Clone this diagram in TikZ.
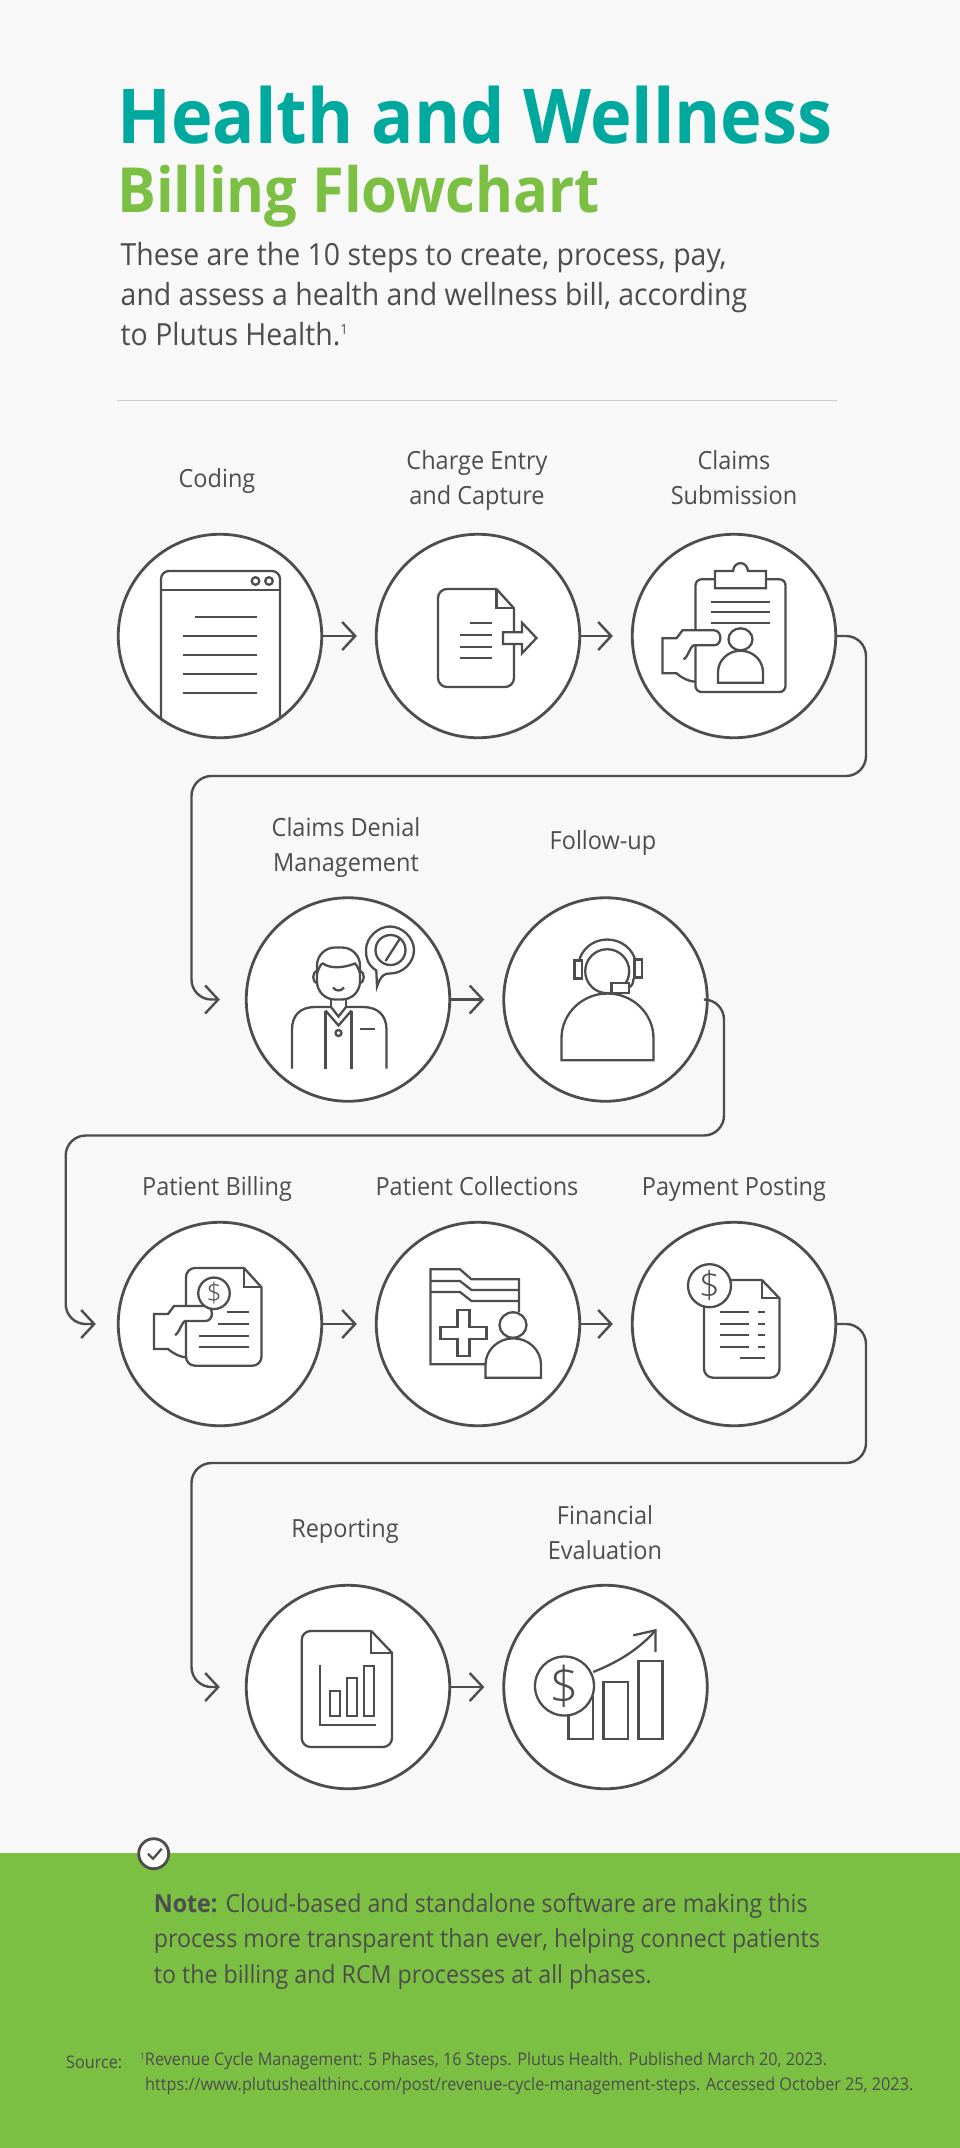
\documentclass[tikz,border=0pt]{standalone}
\usepackage{fontspec}
\setmainfont{Open Sans}
\newfontfamily\titlefont[FakeStretch=0.93]{Open Sans}
\newfontfamily\bodyfont[FakeStretch=0.932]{Open Sans}
\newfontfamily\labelfont[FakeStretch=0.94]{Open Sans}
\newfontfamily\coinfont{Open Sans Light}
\usetikzlibrary{arrows.meta,positioning}
\definecolor{inkgray}{RGB}{77,77,77}
\definecolor{pagegray}{RGB}{248,248,248}
\definecolor{rulegray}{RGB}{204,204,204}
\definecolor{tealhead}{RGB}{0,169,157}
\definecolor{greenhead}{RGB}{123,192,67}
\tikzset{
  stepcircle/.style={circle,draw=inkgray,fill=white,line width=2.8pt,minimum size=203.5pt,inner sep=0pt},
  steplabel/.style={text=inkgray,font=\labelfont\fontsize{25}{35}\selectfont,align=center,inner sep=0pt},
  flow/.style={draw=inkgray,line width=2.4pt,-{Straight Barb[length=13pt,width=28pt,line width=2.4pt]}},
  longflow/.style={flow,rounded corners=20pt},
  icon/.style={draw=inkgray,line width=2.3pt},
  coin/.style={circle,draw=inkgray,fill=white,line width=2.3pt,inner sep=-4pt,text=inkgray},
}
% folded sheet: left, top, right, bottom, fold x, fold y
\newcommand{\foldeddoc}[6]{
  \draw[icon,fill=white] (#5,#2) -- (#3,#6) [rounded corners=9pt] -- (#3,#4) -- (#1,#4) -- (#1,#2) -- (#5,#2);
  \draw[icon] (#5,#2) -- (#5,#6) -- (#3,#6);
}
% hand, origin at the upper left of the wrist
\newcommand{\handshape}[2]{
  \begin{scope}[shift={(#1,#2)}]
    \fill[white] (25,-8) -- (51.5,-8) .. controls (60,-8) and (60,7) .. (51.5,7) -- (25,7) -- cycle;
    \draw[icon] (33,43.5) .. controls (26,43) and (20,40) .. (14,35) -- (0,35) -- (0,0) -- (14,0) -- (20,-8) -- (51.5,-8) .. controls (60,-8) and (60,7) .. (51.5,7) -- (31.5,7) .. controls (28,7) and (25,20) .. (21,21);
  \end{scope}
}
% person: head x, head y, head radii, body left, body right, body top, body bottom
\newcommand{\personshape}[8]{
  \pgfmathsetmacro{\ys}{#7+0.67*(#8-#7)}
  \pgfmathsetmacro{\xm}{0.5*(#5+#6)}
  \pgfmathsetmacro{\ctrlx}{0.275*(#6-#5)}
  \pgfmathsetmacro{\ctrly}{0.55*(\ys-#7)}
  \draw[icon,fill=white] (#5,#8) -- (#5,\ys) .. controls (#5,\ys-\ctrly) and (\xm-\ctrlx,#7) .. (\xm,#7) .. controls (\xm+\ctrlx,#7) and (#6,\ys-\ctrly) .. (#6,\ys) -- (#6,#8) -- cycle;
  \draw[icon,fill=white] (#1,#2) ellipse ({#3} and {#4});
}
\begin{document}
\begin{tikzpicture}[x=1pt,y=-1pt]
\useasboundingbox (0,0) rectangle (960,2148);
\fill[pagegray] (0,0) rectangle (960,1853);
\fill[greenhead] (0,1853) rectangle (960,2148);
%Kopf
\node[anchor=base west,inner sep=0pt,text=tealhead,font=\titlefont\bfseries\fontsize{75.7}{75.7}\selectfont] (title) at (117,143) {Health and Wellness};
\node[anchor=base west,inner sep=0pt,text=greenhead,font=\titlefont\bfseries\fontsize{62.2}{62.2}\selectfont] (subtitle) at (117,212) {Billing Flowchart};
\node[anchor=north west,inner sep=0pt,text=inkgray,align=left,font=\bodyfont\fontsize{30.5}{40}\selectfont] (intro) at (120.5,242) {These are the 10 steps to create, process, pay,\\and assess a health and wellness bill, according\\to Plutus Health.\raisebox{11pt}{\fontsize{14}{14}\selectfont 1}};
\draw[rulegray,line width=1.2pt] (117,400.5) -- (837,400.5);
%Spalten und Zeilen
\pgfmathsetmacro{\xA}{220}
\pgfmathsetmacro{\xB}{478}
\pgfmathsetmacro{\xC}{734}
\pgfmathsetmacro{\xD}{348}
\pgfmathsetmacro{\xE}{605.5}
\pgfmathsetmacro{\yA}{636}
\pgfmathsetmacro{\yB}{999.5}
\pgfmathsetmacro{\yC}{1324}
\pgfmathsetmacro{\yD}{1687}
\node[stepcircle] (coding) at (\xA,\yA) {};
\node[stepcircle] (charge) at (\xB,\yA) {};
\node[stepcircle] (submission) at (\xC,\yA) {};
\node[stepcircle] (denial) at (\xD,\yB) {};
\node[stepcircle] (followup) at (\xE,\yB) {};
\node[stepcircle] (billing) at (\xA,\yC) {};
\node[stepcircle] (collections) at (\xB,\yC) {};
\node[stepcircle] (posting) at (\xC,\yC) {};
\node[stepcircle] (reporting) at (\xD,\yD) {};
\node[stepcircle] (evaluation) at (\xE,\yD) {};
\node[steplabel] (codinglabel) at (217,480.5) {\strut Coding};
\node[steplabel] (chargelabel) at (477,480) {\strut Charge Entry\\\strut and Capture};
\node[steplabel] (submissionlabel) at (734,480) {\strut Claims\\\strut Submission};
\node[steplabel] (deniallabel) at (346,847) {\strut Claims Denial\\\strut Management};
\node[steplabel] (followuplabel) at (603,842) {\strut Follow-up};
\node[steplabel] (billinglabel) at (217,1188.5) {\strut Patient Billing};
\node[steplabel] (collectionslabel) at (477,1188.5) {\strut Patient Collections};
\node[steplabel] (postinglabel) at (734,1188.5) {\strut Payment Posting};
\node[steplabel] (reportinglabel) at (345,1530.5) {\strut Reporting};
\node[steplabel] (evaluationlabel) at (605,1534.5) {\strut Financial\\\strut Evaluation};
%Pfeile
\draw[flow,shorten >=18pt] (coding) -- (charge);
\draw[flow,shorten >=18pt] (charge) -- (submission);
\draw[flow,shorten >=18pt] (denial) -- (followup);
\draw[flow,shorten >=18pt] (billing) -- (collections);
\draw[flow,shorten >=18pt] (collections) -- (posting);
\draw[flow,shorten >=18pt] (reporting) -- (evaluation);
\draw[longflow,shorten >=25pt] (submission.east) -- (866,\yA) -- (866,776) -- (191.5,776) -- (191.5,\yB) -- (denial.west);
\draw[longflow,shorten >=21pt] (followup.east) -- (724,\yB) -- (724,1135.5) -- (65.7,1135.5) -- (65.7,\yC) -- (billing.west);
\draw[longflow,shorten >=25pt] (posting.east) -- (866,\yC) -- (866,1463) -- (191.5,1463) -- (191.5,\yD) -- (reporting.west);
%Coding
\begin{scope}[shift={(coding.center)}]
  \draw[icon] (-59,83) [rounded corners=8pt] -- (-59,-65) -- (60,-65) -- (60,83);
  \draw[icon] (-59,-46) -- (60,-46);
  \draw[icon] (35.5,-55) circle (3.8) (49,-55) circle (3.8);
  \draw[icon] (-25.5,-18.7) -- (37,-18.7);
  \foreach \ly in {0.3,19.3,38.3,57.3}{
    \draw[icon] (-37,\ly) -- (37,\ly);
  }
\end{scope}
%Charge Entry and Capture
\begin{scope}[shift={(charge.center)}]
  \foldeddoc{-40}{-47}{36}{51}{18.5}{-27.7}
  \draw[icon] (-8,-12.7) -- (14,-12.7);
  \foreach \ly in {-1,10.7,22}{
    \draw[icon] (-18,\ly) -- (14,\ly);
  }
  \draw[icon,fill=white] (25,-3.7) -- (44,-3.7) -- (44,-13.3) -- (58.5,2) -- (44,17.3) -- (44,8) -- (25,8) -- cycle;
\end{scope}
%Claims Submission
\begin{scope}[shift={(submission.center)}]
  \draw[icon,rounded corners=6pt] (-38.5,-56.7) rectangle (51.5,56);
  \draw[icon,fill=white] (-19,-47.7) -- (-19,-65) -- (-1,-65) .. controls (0,-75.5) and (13,-75.5) .. (14,-65) -- (32,-65) -- (32,-47.7) -- cycle;
  \foreach \ly in {-33.7,-23.7,-13.3}{
    \draw[icon] (-23.5,\ly) -- (35.5,\ly);
  }
  \personshape{6.5}{3.3}{12}{11}{-16}{29}{14.7}{46.7}
  \handshape{-71.5}{2.3}
\end{scope}
%Claims Denial Management
\begin{scope}[shift={(denial.center)}]
  \draw[icon,rounded corners=18pt] (-31,-52) rectangle (12,0);
  \draw[icon] (-31,-26) .. controls (-29,-32) and (-27,-36) .. (-25,-36) .. controls (-18,-31) and (-6,-31) .. (7,-36) .. controls (9,-34) and (11,-30) .. (12,-26);
  \draw[icon] (-31,-29) .. controls (-36,-27) and (-36,-18) .. (-31,-16);
  \draw[icon] (12,-29) .. controls (17,-27) and (17,-18) .. (12,-16);
  \draw[icon] (-15,-12) .. controls (-12,-8) and (-7,-8) .. (-4,-12);
  \draw[icon] (-17,0) -- (-17,7.5) (-2,0) -- (-2,7.5);
  \draw[icon] (-56,69) -- (-56,30) .. controls (-56,16) and (-48,7.5) .. (-33,7.5) -- (-17,7.5);
  \draw[icon] (38.5,69) -- (38.5,30) .. controls (38.5,16) and (30,7.5) .. (15,7.5) -- (-2,7.5);
  \draw[icon] (-22.5,11) -- (-22.5,69) (3.5,11) -- (3.5,69);
  \draw[icon] (-22.5,11) -- (-9.5,26) -- (3.5,11);
  \draw[icon] (-17,7.5) -- (-9.5,17) -- (-2,7.5);
  \draw[icon] (-9.5,33.5) circle (3);
  \draw[icon] (11.5,29.5) -- (26.5,29.5);
  \draw[icon] (28.3,-29) .. controls (19,-35) and (18,-42) .. (18,-49.5) .. controls (18,-62) and (30,-73) .. (42,-73) .. controls (54,-73) and (66,-62) .. (66,-49.5) .. controls (66,-37) and (55,-26) .. (42,-26) .. controls (37,-26) and (33,-25) .. (29,-13) -- cycle;
  \draw[icon] (42.5,-49.5) circle (15);
  \draw[icon] (37.5,-38.5) -- (52,-61);
\end{scope}
%Follow-up
\begin{scope}[shift={(followup.center)}]
  \personshape{1.7}{-28.3}{22}{22}{-44}{48}{-6}{60.7}
  \draw[icon] (-26.5,-38) .. controls (-24,-50) and (-13,-60) .. (1.7,-60) .. controls (16,-60) and (28,-50) .. (30,-38);
  \draw[icon,fill=white] (-31,-39) rectangle (-23.3,-21);
  \draw[icon,fill=white] (29,-40) rectangle (36.7,-22);
  \draw[icon] (28,-21) .. controls (28,-16) and (26,-13) .. (23,-12);
  \draw[icon,fill=white] (6,-16.7) rectangle (23.3,-6.7);
\end{scope}
%Patient Billing
\begin{scope}[shift={(billing.center)}]
  \foldeddoc{-34}{-56}{41.5}{41.7}{24}{-36.7}
  \draw[icon] (6.5,-11.7) -- (29,-11.7) (-2.5,0) -- (29,0);
  \draw[icon] (-21,12) -- (29,12) (-21,23) -- (29,23);
  \handshape{-66}{-10}
  \node[coin,minimum size=31.5pt,font=\coinfont\fontsize{27}{27}\selectfont] (billingcoin) at (-6,-30.7) {\$};
\end{scope}
%Patient Collections
\begin{scope}[shift={(collections.center)}]
  \draw[icon] (7.5,40.3) -- (-47.5,40.3) -- (-47.5,-54.7) -- (-18,-54.7) -- (-6.5,-44.7) -- (41,-44.7) -- (41,-12);
  \draw[icon] (-47.5,-43) -- (-18,-43) -- (-6.5,-34) -- (41,-34);
  \draw[icon] (-47.5,-32) -- (-18,-32) -- (-6.5,-23) -- (41,-23);
  \draw[icon] (-20.5,-14) -- (-8.5,-14) -- (-8.5,2.7) -- (8.5,2.7) -- (8.5,15.3) -- (-8.5,15.3) -- (-8.5,32) -- (-20.5,32) -- (-20.5,15.3) -- (-37.5,15.3) -- (-37.5,2.7) -- (-20.5,2.7) -- cycle;
  \personshape{35}{1}{13.5}{12.7}{7.5}{63}{14.3}{53.7}
\end{scope}
%Payment Posting
\begin{scope}[shift={(posting.center)}]
  \foldeddoc{-30}{-44}{45.5}{53.7}{28}{-25.7}
  \foreach \ly in {-11.7,-0.3,11,22.7}{
    \draw[icon] (-14.5,\ly) -- (15,\ly) (24,\ly) -- (31,\ly);
  }
  \draw[icon] (6,34.3) -- (31,34.3);
  \node[coin,minimum size=43pt,font=\coinfont\fontsize{37}{37}\selectfont] (postingcoin) at (-24.5,-38.3) {\$};
\end{scope}
%Reporting
\begin{scope}[shift={(reporting.center)}]
  \foldeddoc{-46.3}{-56}{44}{60}{23.3}{-34.3}
  \draw[icon] (-27.7,-22.3) -- (-27.7,37.7) -- (28.3,37.7);
  \draw[icon] (-18.3,4.3) rectangle (-7.7,29);
  \draw[icon] (-1,-9) rectangle (9,29);
  \draw[icon] (15.7,-20.7) rectangle (26.3,29);
\end{scope}
%Financial Evaluation
\begin{scope}[shift={(evaluation.center)}]
  \draw[icon] (-37,52.3) rectangle (-12.7,10);
  \draw[icon] (-2,52.3) rectangle (22.3,-5);
  \draw[icon] (33,52.3) rectangle (57,-26);
  \node[coin,minimum size=59pt,font=\coinfont\fontsize{52}{52}\selectfont] (evaluationcoin) at (-41,-1) {\$};
  \draw[icon] (-12.3,-15) .. controls (10,-24) and (32,-36) .. (50,-56.7);
  \draw[icon] (27.7,-51.7) -- (50,-56.7) -- (50,-35);
\end{scope}
%Hinweis
\node[circle,draw=inkgray,fill=white,line width=2.8pt,minimum size=30pt,inner sep=0pt] (checkmark) at (153.7,1853.7) {};
\draw[icon] ([shift={(-5.7,0)}]checkmark.center) -- ([shift={(-0.6,5)}]checkmark.center) -- ([shift={(8,-5)}]checkmark.center);
\node[anchor=north west,inner sep=0pt,text=inkgray,align=left,font=\bodyfont\fontsize{24.9}{35.5}\selectfont] (note) at (153.7,1893) {\textbf{Note:} Cloud-based and standalone software are making this\\process more transparent than ever, helping connect patients\\to the billing and RCM processes at all phases.};
\node[anchor=base west,inner sep=0pt,text=inkgray,font=\bodyfont\fontsize{17.4}{25}\selectfont] (sourcetag) at (66,2068) {Source:};
\node[anchor=north west,inner sep=0pt,text=inkgray,align=left,font=\bodyfont\fontsize{17.4}{25}\selectfont] (sources) at (140,2052) {\raisebox{6pt}{\fontsize{9}{9}\selectfont 1}Revenue Cycle Management: 5 Phases, 16 Steps. Plutus Health. Published March 20, 2023.\\\hspace*{5pt}https://www.plutushealthinc.com/post/revenue-cycle-management-steps. Accessed October 25, 2023.};
\end{tikzpicture}
\end{document}
